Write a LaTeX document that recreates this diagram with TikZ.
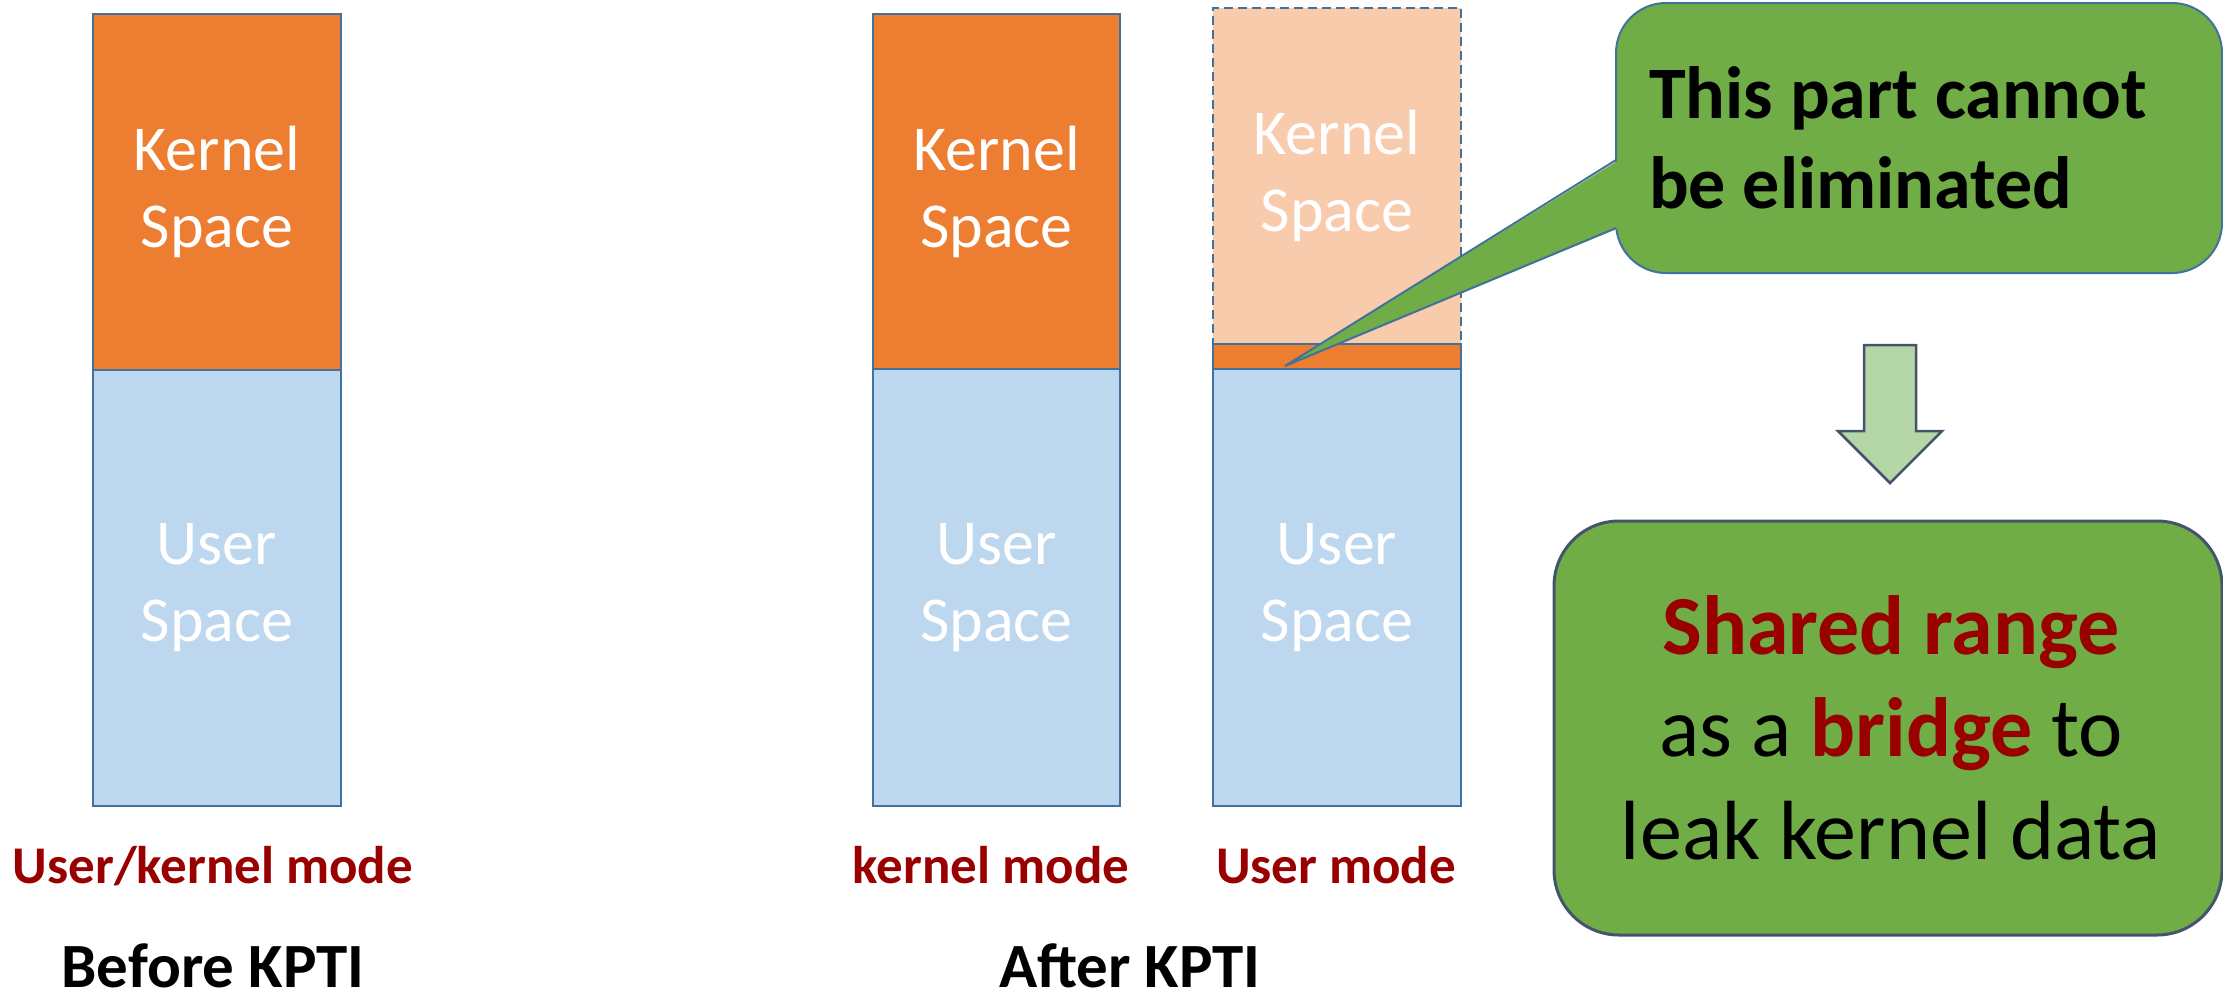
\documentclass[tikz,border=0pt]{standalone}
\usepackage{fontspec}
\setmainfont{Carlito}
\definecolor{korange}{HTML}{ED7D31}
\definecolor{klight}{HTML}{F8CBAD}
\definecolor{ublue}{HTML}{BDD7EE}
\definecolor{bblue}{HTML}{41719C}
\definecolor{cgreen}{HTML}{70AD47}
\definecolor{agreen}{HTML}{B5D6A7}
\definecolor{slate}{HTML}{44546A}
\definecolor{dred}{HTML}{990000}
\tikzset{
  space/.style={draw=bblue, line width=2pt, text=white, align=center,
    inner sep=0pt, font=\fontsize{64}{77}\selectfont},
  modelabel/.style={text=dred, font=\fontsize{53}{60}\selectfont\bfseries, inner sep=0pt},
  titlelabel/.style={text=black, font=\fontsize{63}{70}\selectfont\bfseries, inner sep=0pt, text depth=0pt},
}
\begin{document}
\begin{tikzpicture}[x=1pt,y=-1pt]
\useasboundingbox (0,0) rectangle (2223,994);
% Before KPTI column
\node[space, fill=korange, minimum width=248pt, minimum height=356pt] (k1) at (217,192) {Kernel\\Space};
\node[space, fill=ublue, minimum width=248pt, minimum height=436pt] (u1) at (217,588) {User\\Space};
% After KPTI, kernel mode
\node[space, fill=korange, minimum width=247pt, minimum height=355pt] (k2) at (996.5,191.5) {Kernel\\Space};
\node[space, fill=ublue, minimum width=247pt, minimum height=437pt] (u2) at (996.5,587.5) {User\\Space};
% After KPTI, user mode
\node[space, fill=klight, dashed, dash pattern=on 9pt off 5pt, minimum width=248pt, minimum height=336pt] (k3) at (1337,176) {Kernel\\Space};
\node[draw=bblue, line width=2pt, fill=korange, minimum width=248pt, minimum height=25pt, inner sep=0pt] (strip) at (1337,356.5) {};
\node[space, fill=ublue, minimum width=248pt, minimum height=437pt] (u3) at (1337,587.5) {User\\Space};
% labels
\node[modelabel, anchor=base] (m1) at (213,883) {User/kernel mode};
\node[modelabel, anchor=base] (m2) at (991,883) {kernel mode};
\node[modelabel, anchor=base] (m3) at (1336,883) {User mode};
\node[titlelabel, anchor=base] (t1) at (213,987) {Before KPTI};
\node[titlelabel, anchor=base] (t2) at (1130,987) {After KPTI};
% callout
\node[draw=bblue, line width=2pt, fill=cgreen, rounded corners=50pt, minimum width=606pt, minimum height=270pt, inner sep=0pt] (call) at (1919,138) {};
\coordinate (tip) at (1285,366);
\coordinate (pa) at (1616,160);
\coordinate (pb) at (1616,228);
\fill[cgreen] (1619,160) -- (tip) -- (1619,228) -- cycle;
\draw[bblue, line width=2pt, line join=miter] (pa) -- (tip) -- (pb);
\node[anchor=base west, inner sep=0pt, align=left, font=\fontsize{74}{90}\selectfont\bfseries] (ctext) at (1649,208) {This part cannot\\be eliminated};
% arrow
\draw[slate, line width=2.5pt, fill=agreen, line join=miter] (1864,345) -- (1916,345) -- (1916,431) -- (1942,431) -- (1890,483) -- (1838,431) -- (1864,431) -- cycle;
% bottom box
\node[draw=slate, line width=3pt, fill=cgreen, rounded corners=65pt, minimum width=668pt, minimum height=414pt, inner sep=0pt] (res) at (1888,728) {};
\node[anchor=base, inner sep=0pt, align=center, font=\fontsize{84}{102.5}\selectfont] (restext) at (1891,859)
 {\textcolor{dred}{\bfseries Shared range}\\as a \textcolor{dred}{\bfseries bridge} to\\leak kernel data};
\end{tikzpicture}
\end{document}
